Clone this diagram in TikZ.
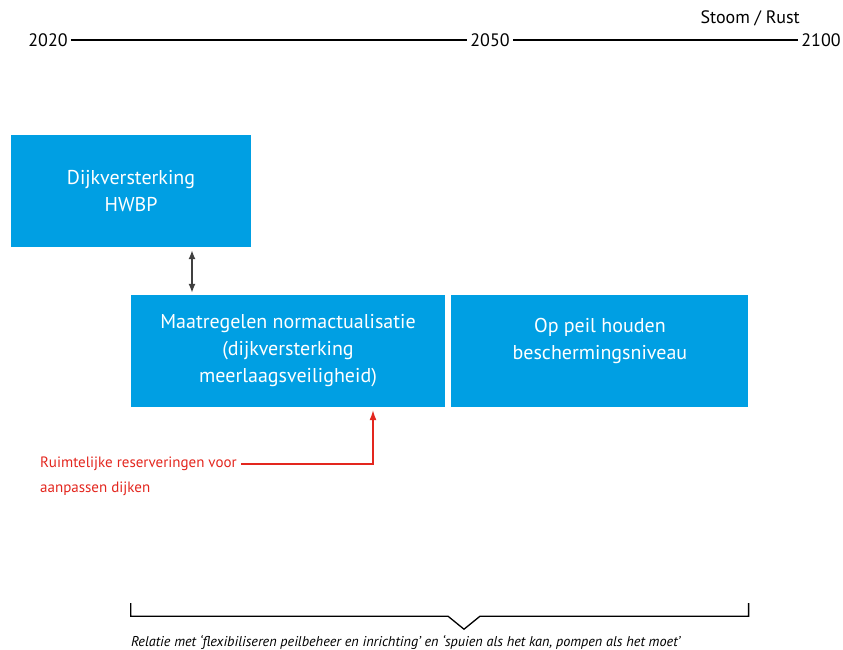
\documentclass[tikz,border=0pt]{standalone}
\usepackage{fontspec}
\setmainfont{PT Sans}
\usepackage{xcolor}
\usepackage{tikz}
\usetikzlibrary{arrows.meta,positioning}
\definecolor{rijkblue}{HTML}{009FE3}
\definecolor{rijkred}{HTML}{E3261E}
\tikzset{
  planbox/.style={
    fill=rijkblue,
    text=white,
    align=center,
    inner sep=0pt,
    minimum height=112pt,
    font=\fontsize{20}{27}\selectfont
  },
  yearlabel/.style={
    inner sep=3pt,
    font=\fontsize{18}{20}\selectfont
  },
  timeline/.style={
    line width=1.8pt,
    draw=black
  },
  linkarrow/.style={
    {Latex[length=9pt,width=7pt]}-{Latex[length=9pt,width=7pt]},
    line width=1.4pt,
    draw=black!75
  },
  notearrow/.style={
    -{Latex[length=10pt,width=7pt]},
    line width=1.3pt,
    draw=rijkred
  },
  notetext/.style={
    text=rijkred,
    inner sep=0pt,
    anchor=west,
    font=\fontsize{15}{17}\selectfont
  }
}

\begin{document}
\begin{tikzpicture}[x=1pt, y=-1pt, node distance=6pt]
    \useasboundingbox (0,0) rectangle (843,650);

    % tijdlijn
    \node[yearlabel] (y2020) at (48,40) {2020};
    \node[yearlabel] (y2050) at (490,40) {2050};
    \node[yearlabel] (y2100) at (821,40) {2100};
    \node[yearlabel, anchor=east] (stoom) at (803,18) {Stoom / Rust};
    \draw[timeline] (y2020) -- (y2050);
    \draw[timeline] (y2050) -- (y2100);

    \node[planbox, minimum width=240pt] (hwbp) at (131,191) {
        \raisebox{-3pt}{Dijkversterking}\\
        \raisebox{-3pt}{HWBP}
    };
    \node[planbox, minimum width=314pt] (normact) at (288,351) {
        \raisebox{-3pt}{Maatregelen normactualisatie}\\
        \raisebox{-3pt}{(dijkversterking}\\
        \raisebox{-3pt}{meerlaagsveiligheid)}
    };
    \node[planbox, minimum width=297pt, right=of normact] (beschermen) {
        \raisebox{-3pt}{Op peil houden}\\
        \raisebox{-3pt}{beschermingsniveau}\\
        \mbox{}
    };

    \draw[linkarrow, shorten <=3pt, shorten >=2pt]
        ([xshift=61pt]hwbp.south) -- ([xshift=61pt]hwbp.south |- normact.north);

    % ruimtelijke reservering
    \node[notetext] (reserve) at (40,464) {Ruimtelijke reserveringen voor};
    \node[notetext, below=11pt of reserve.south west, anchor=north west] (reserve2) {aanpassen dijken};
    \draw[notearrow, shorten <=4pt, shorten >=3pt]
        (reserve.east) -| ([xshift=85pt]normact.south);

    % accolade
    \draw[line width=1.3pt] ([yshift=-196pt]normact.south west) -- ([yshift=-209pt]normact.south west)
        -- ([yshift=-209pt]normact.south west -| 448,0) -- ([yshift=-222pt]normact.south west -| 464,0)
        -- ([yshift=-209pt]normact.south west -| 480,0) -- ([yshift=-209pt]beschermen.south east)
        -- ([yshift=-196pt]beschermen.south east);
    \node[anchor=west, inner sep=0pt, font=\fontsize{14.2}{16}\selectfont\itshape] (relatie)
        at ([yshift=-235pt]normact.south west)
        {Relatie met ‘flexibiliseren peilbeheer en inrichting’ en ‘spuien als het kan, pompen als het moet’};
\end{tikzpicture}
\end{document}
